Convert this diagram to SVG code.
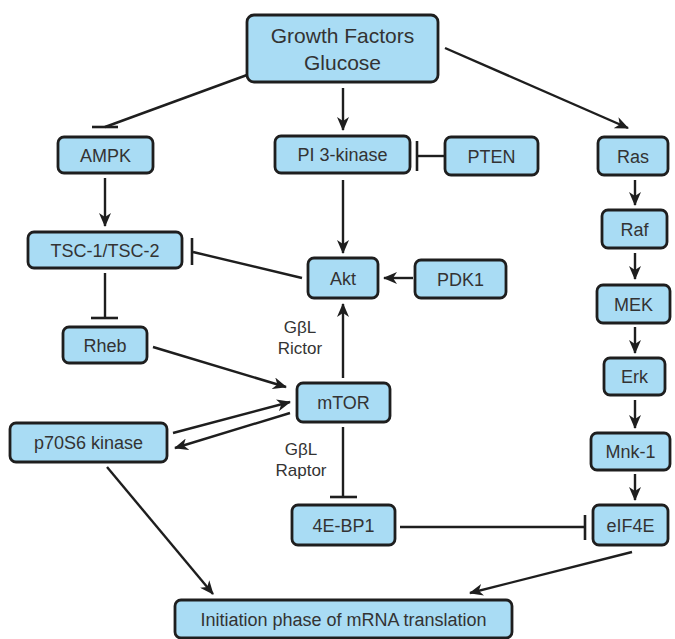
<svg xmlns="http://www.w3.org/2000/svg" width="675" height="639" viewBox="0 0 675 639">
<style>
.box{fill:#a9dcf4;stroke:#1e1e1e;stroke-width:2.8}
.t{font-family:"Liberation Sans",Arial,Helvetica,sans-serif;font-size:18px;fill:#333;text-anchor:middle}
.big{font-size:21px}
.lbl{font-family:"Liberation Sans",Arial,Helvetica,sans-serif;font-size:17px;fill:#333;text-anchor:middle}
.c{stroke:#1e1e1e;stroke-width:2.4;fill:none}
.bar{stroke:#1e1e1e;stroke-width:2.6;fill:none}
</style>
<defs>
<marker id="ah" markerUnits="userSpaceOnUse" markerWidth="14" markerHeight="12" viewBox="0 0 14 12" refX="13" refY="6" orient="auto">
<path d="M0,0 L14,6 L0,12 L4,6 Z" fill="#1e1e1e"/>
</marker>
</defs>
<rect width="675" height="639" fill="#fff"/>
<g id="connectors">
<line class="c" x1="247" y1="75" x2="105" y2="127"/>
<line class="bar" x1="92" y1="127" x2="118" y2="127"/>
<line class="c" x1="343" y1="88" x2="343" y2="130" marker-end="url(#ah)"/>
<line class="c" x1="445" y1="48" x2="628" y2="128" marker-end="url(#ah)"/>
<line class="c" x1="445" y1="156" x2="418" y2="156"/>
<line class="bar" x1="417" y1="141" x2="417" y2="171"/>
<line class="c" x1="105" y1="178" x2="105" y2="226" marker-end="url(#ah)"/>
<line class="c" x1="343" y1="180" x2="343" y2="253" marker-end="url(#ah)"/>
<line class="c" x1="302" y1="278" x2="193" y2="252"/>
<line class="bar" x1="192" y1="238" x2="192" y2="265"/>
<line class="c" x1="413" y1="278" x2="384" y2="278" marker-end="url(#ah)"/>
<line class="c" x1="105" y1="273" x2="105" y2="318"/>
<line class="bar" x1="91" y1="318" x2="118" y2="318"/>
<line class="c" x1="153" y1="347" x2="286" y2="387" marker-end="url(#ah)"/>
<line class="c" x1="343" y1="378" x2="343" y2="304" marker-end="url(#ah)"/>
<line class="c" x1="173" y1="433" x2="290" y2="402" marker-end="url(#ah)"/>
<line class="c" x1="290" y1="413" x2="175" y2="448" marker-end="url(#ah)"/>
<line class="c" x1="343" y1="427" x2="343" y2="497"/>
<line class="bar" x1="330" y1="497" x2="357" y2="497"/>
<line class="c" x1="400" y1="527" x2="585" y2="527"/>
<line class="bar" x1="585" y1="515" x2="585" y2="540"/>
<line class="c" x1="107" y1="467" x2="213" y2="594" marker-end="url(#ah)"/>
<line class="c" x1="632" y1="552" x2="470" y2="593" marker-end="url(#ah)"/>
<line class="c" x1="635" y1="180" x2="635" y2="205" marker-end="url(#ah)"/>
<line class="c" x1="635" y1="253" x2="635" y2="279" marker-end="url(#ah)"/>
<line class="c" x1="635" y1="327" x2="635" y2="353" marker-end="url(#ah)"/>
<line class="c" x1="635" y1="400" x2="635" y2="428" marker-end="url(#ah)"/>
<line class="c" x1="635" y1="474" x2="635" y2="500" marker-end="url(#ah)"/>
</g>
<g id="growth"><rect class="box" x="247" y="15" width="191" height="67" rx="7"/><text class="t big" x="342.5" y="43">Growth Factors</text><text class="t big" x="342.5" y="70">Glucose</text></g>
<g id="ampk"><rect class="box" x="58" y="137" width="95" height="36" rx="6"/><text class="t" x="105.5" y="161.5">AMPK</text></g>
<g id="pi3k"><rect class="box" x="275" y="136" width="135" height="37" rx="6"/><text class="t" x="342.5" y="161">PI 3-kinase</text></g>
<g id="pten"><rect class="box" x="445" y="137" width="93" height="38" rx="6"/><text class="t" x="491.5" y="162.5">PTEN</text></g>
<g id="ras"><rect class="box" x="598" y="137" width="70" height="38" rx="6"/><text class="t" x="633" y="162.5">Ras</text></g>
<g id="tsc"><rect class="box" x="28" y="232" width="154" height="36" rx="6"/><text class="t" x="105" y="256.5">TSC-1/TSC-2</text></g>
<g id="raf"><rect class="box" x="602" y="210" width="65" height="38" rx="6"/><text class="t" x="634.5" y="235.5">Raf</text></g>
<g id="akt"><rect class="box" x="308" y="258" width="70" height="40" rx="6"/><text class="t" x="343" y="284.5">Akt</text></g>
<g id="pdk1"><rect class="box" x="415" y="260" width="91" height="38" rx="6"/><text class="t" x="460.5" y="285.5">PDK1</text></g>
<g id="mek"><rect class="box" x="597" y="285" width="73" height="38" rx="6"/><text class="t" x="633.5" y="310.5">MEK</text></g>
<g id="rheb"><rect class="box" x="63" y="327" width="84" height="36" rx="6"/><text class="t" x="105" y="351.5">Rheb</text></g>
<text class="lbl" x="300" y="333">GβL</text>
<text class="lbl" x="300" y="354">Rictor</text>
<g id="erk"><rect class="box" x="604" y="358" width="61" height="37" rx="6"/><text class="t" x="634.5" y="383">Erk</text></g>
<g id="mtor"><rect class="box" x="297" y="383" width="93" height="39" rx="6"/><text class="t" x="343.5" y="409">mTOR</text></g>
<g id="p70"><rect class="box" x="10" y="423" width="157" height="39" rx="6"/><text class="t" x="88.5" y="449">p70S6 kinase</text></g>
<text class="lbl" x="301" y="455">GβL</text>
<text class="lbl" x="301" y="476">Raptor</text>
<g id="mnk1"><rect class="box" x="591" y="433" width="79" height="37" rx="6"/><text class="t" x="630.5" y="458">Mnk-1</text></g>
<g id="bp1"><rect class="box" x="292" y="505" width="103" height="40" rx="6"/><text class="t" x="343.5" y="531.5">4E-BP1</text></g>
<g id="eif4e"><rect class="box" x="593" y="505" width="75" height="40" rx="6"/><text class="t" x="630.5" y="531.5">eIF4E</text></g>
<g id="init"><rect class="box" x="175" y="600" width="337" height="38" rx="6"/><text class="t" x="343.5" y="625.5">Initiation phase of mRNA translation</text></g>
</svg>
